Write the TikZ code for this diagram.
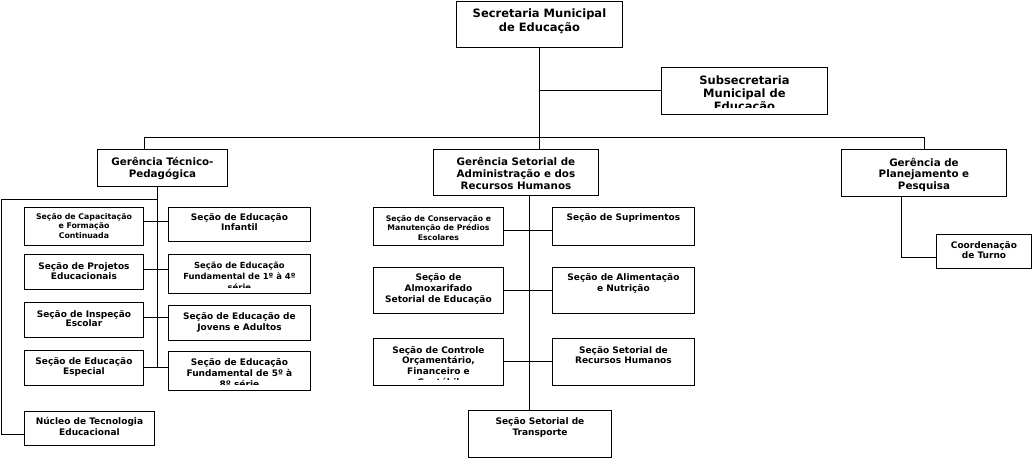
\documentclass[tikz,border=0pt]{standalone}
\usepackage{fontspec}
\setmainfont{DejaVu Sans}
\usetikzlibrary{shadows}
\newcommand{\orgtxt}[3]{\parbox[t]{220pt}{\centering\fontsize{#1pt}{#2pt}\selectfont\bfseries #3}}
\tikzset{
  orgbox/.style={draw=black, line width=0.9pt, fill=white, inner sep=0pt, anchor=north west,
    drop shadow={shadow xshift=1pt, shadow yshift=-1pt, fill=gray!55, opacity=1}},
  orgtext/.style={inner sep=0pt, anchor=base},
  link/.style={draw=black, line width=1pt}
}
\begin{document}
\begin{tikzpicture}[x=1pt,y=-1pt]
\useasboundingbox[fill=white] (0,0) rectangle (1033,459);
% boxes
\node[orgbox, minimum width=166pt, minimum height=46pt] (sec) at (456,1) {};
\node[orgbox, minimum width=166pt, minimum height=47pt] (sub) at (661,67) {};
\node[orgbox, minimum width=130pt, minimum height=37pt] (gt) at (97,149) {};
\node[orgbox, minimum width=165pt, minimum height=46pt] (gs) at (433,149) {};
\node[orgbox, minimum width=165pt, minimum height=47pt] (gp) at (841,149) {};
\node[orgbox, minimum width=119pt, minimum height=38pt] (cap) at (24,207) {};
\node[orgbox, minimum width=119pt, minimum height=35pt] (proj) at (24,254) {};
\node[orgbox, minimum width=119pt, minimum height=35pt] (insp) at (24,302) {};
\node[orgbox, minimum width=119pt, minimum height=35pt] (esp) at (24,350) {};
\node[orgbox, minimum width=142pt, minimum height=34pt] (inf) at (168,207) {};
\node[orgbox, minimum width=142pt, minimum height=39pt] (f14) at (168,254) {};
\node[orgbox, minimum width=142pt, minimum height=35pt] (jov) at (168,305) {};
\node[orgbox, minimum width=142pt, minimum height=39pt] (f58) at (168,351) {};
\node[orgbox, minimum width=130pt, minimum height=34pt] (nuc) at (24,411) {};
\node[orgbox, minimum width=130pt, minimum height=38pt] (cons) at (373,207) {};
\node[orgbox, minimum width=130pt, minimum height=46pt] (alm) at (373,267) {};
\node[orgbox, minimum width=130pt, minimum height=47pt] (ctrl) at (373,338) {};
\node[orgbox, minimum width=142pt, minimum height=38pt] (sup) at (552,207) {};
\node[orgbox, minimum width=142pt, minimum height=46pt] (ali) at (552,267) {};
\node[orgbox, minimum width=142pt, minimum height=47pt] (rh) at (552,338) {};
\node[orgbox, minimum width=143pt, minimum height=47pt] (tr) at (468,410) {};
\node[orgbox, minimum width=95pt, minimum height=34pt] (coord) at (936,234) {};
% texts
\node[orgtext] (secT) at ([yshift=-16pt]sec.north) {\orgtxt{11.5}{14}{Secretaria Municipal\\de Educação}};
\begin{scope}
\clip (661,67) rectangle (827,107);
\node[orgtext] (subT) at ([yshift=-17pt]sub.north) {\orgtxt{11.5}{13.3}{Subsecretaria\\Municipal de\\Educação}};
\end{scope}
\node[orgtext] (gtT) at ([yshift=-16pt]gt.north) {\orgtxt{10.3}{12.3}{Gerência Técnico-\\Pedagógica}};
\node[orgtext] (gsT) at ([yshift=-16pt]gs.north) {\orgtxt{10.3}{12.2}{Gerência Setorial de\\Administração e dos\\Recursos Humanos}};
\node[orgtext] (gpT) at ([yshift=-17pt]gp.north) {\orgtxt{10.3}{11.7}{Gerência de\\Planejamento e\\Pesquisa}};
\node[orgtext] (capT) at ([yshift=-12.3pt]cap.north) {\orgtxt{7.8}{9.6}{Seção de Capacitação\\e Formação\\Continuada}};
\node[orgtext] (projT) at ([yshift=-15pt]proj.north) {\orgtxt{9}{10.7}{Seção de Projetos\\Educacionais}};
\node[orgtext] (inspT) at ([yshift=-15pt]insp.north) {\orgtxt{9}{9.9}{Seção de Inspeção\\Escolar}};
\node[orgtext] (espT) at ([yshift=-14.7pt]esp.north) {\orgtxt{9}{9.7}{Seção de Educação\\Especial}};
\node[orgtext] (infT) at ([yshift=-13.7pt]inf.north) {\orgtxt{9}{9.9}{Seção de Educação\\Infantil}};
\begin{scope}
\clip (168,254) rectangle (310,287.7);
\node[orgtext] (f14T) at ([yshift=-14.8pt]f14.north) {\orgtxt{8.4}{11}{Seção de Educação\\Fundamental de 1º à 4º\\série}};
\end{scope}
\node[orgtext] (jovT) at ([yshift=-14.7pt]jov.north) {\orgtxt{9}{10.7}{Seção de Educação de\\Jovens e Adultos}};
\begin{scope}
\clip (168,351) rectangle (310,384.7);
\node[orgtext] (f58T) at ([yshift=-14.3pt]f58.north) {\orgtxt{9}{11.3}{Seção de Educação\\Fundamental de 5º à\\8º série}};
\end{scope}
\node[orgtext] (nucT) at ([yshift=-13.7pt]nuc.north) {\orgtxt{9}{11}{Núcleo de Tecnologia\\Educacional}};
\node[orgtext] (consT) at ([yshift=-14.6pt]cons.north) {\orgtxt{7.7}{9.2}{Seção de Conservação e\\Manutenção de Prédios\\Escolares}};
\node[orgtext] (supT) at ([yshift=-13.7pt]sup.north) {\orgtxt{9}{11}{Seção de Suprimentos}};
\node[orgtext] (almT) at ([yshift=-13.3pt]alm.north) {\orgtxt{9}{11}{Seção de\\Almoxarifado\\Setorial de Educação}};
\node[orgtext] (aliT) at ([yshift=-13.3pt]ali.north) {\orgtxt{9}{11.3}{Seção de Alimentação\\e Nutrição}};
\begin{scope}
\clip (373,338) rectangle (503,379.5);
\node[orgtext] (ctrlT) at ([yshift=-15pt]ctrl.north) {\orgtxt{9}{10.8}{Seção de Controle\\Orçamentário,\\Financeiro e\\Contábil}};
\end{scope}
\node[orgtext] (rhT) at ([yshift=-15pt]rh.north) {\orgtxt{9}{10.8}{Seção Setorial de\\Recursos Humanos}};
\node[orgtext] (trT) at ([yshift=-14.7pt]tr.north) {\orgtxt{9}{11}{Seção Setorial de\\Transporte}};
\node[orgtext] (coordT) at ([yshift=-14pt]coord.north) {\orgtxt{9}{10.7}{Coordenação\\de Turno}};
% connectors
\coordinate (busL) at (144,137);
\coordinate (busR) at (924,137);
\coordinate (gtj) at ([xshift=-5pt]gt.south);
\coordinate (lft) at (1,199);
\coordinate (gsj) at ([xshift=13.5pt]gs.south);
\coordinate (gpj) at ([xshift=-22.5pt]gp.south);
\draw[link] (sec.south) -- (sec.south |- gs.north);
\draw[link] (sub.west) -- (sub.west -| sec.south);
\draw[link] (busL |- gt.north) -- (busL) -- (busR) -- (busR |- gp.north);
\draw[link] (gtj) -- (gtj |- esp.east);
\draw[link] (gtj |- lft) -- (lft) |- ([yshift=-6pt]nuc.west);
\draw[link] ([yshift=5pt]cap.east) -- ([yshift=5pt]cap.east -| inf.west);
\draw[link] ([yshift=2.5pt]proj.east) -- ([yshift=2.5pt]proj.east -| f14.west);
\draw[link] ([yshift=2.5pt]insp.east) -- ([yshift=2.5pt]insp.east -| jov.west);
\draw[link] (esp.east) -- (esp.east -| f58.west);
\draw[link] (gsj) -- (gsj |- tr.north);
\draw[link] ([yshift=-4pt]cons.east) -- ([yshift=-4pt]cons.east -| sup.west);
\draw[link] (alm.east) -- (alm.east -| ali.west);
\draw[link] (ctrl.east) -- (ctrl.east -| rh.west);
\draw[link] (gpj) |- ([yshift=-6pt]coord.west);
\end{tikzpicture}
\end{document}
